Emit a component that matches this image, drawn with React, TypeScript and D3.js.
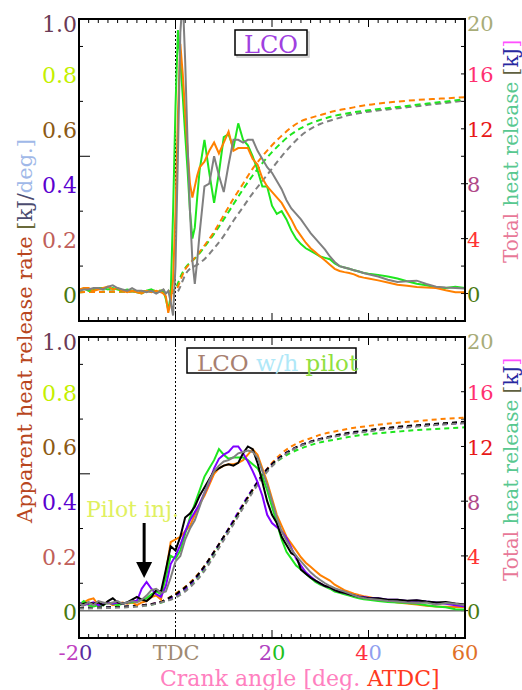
import React from 'react';
import * as d3 from 'd3';

const FONT = '"DejaVu Serif", serif';

// crank angle grids [deg ATDC]
const angTop = [-20, -19, -18, -17, -16, -15, -14, -13, -12, -11, -10, -9, -8, -7, -6, -5, -4, -3,
  -2.5, -2, -1.5, -1, -0.5, 0, 0.5, 1, 1.5, 2, 2.5, 3, 3.5, 4, 4.5, 5,
  6, 7, 8, 9, 10, 11, 12, 13, 14, 15, 16, 17, 18, 19, 20, 21, 22, 23, 24, 25, 26, 27, 28, 29, 30,
  31, 32, 33, 34, 35, 36, 37, 38, 39, 40, 42, 44, 46, 48, 50, 52, 54, 56, 58, 60];
const angBot = [-20, -19, -18, -17, -16, -15, -14, -13, -12, -11, -10, -9, -8, -7, -6, -5, -4, -3, -2, -1,
  0, 1, 2, 3, 4, 5, 6, 7, 8, 9, 10, 11, 12, 13, 14, 15, 16, 17, 18, 19, 20, 21, 22, 23, 24, 25, 26, 27, 28, 29, 30,
  31, 32, 33, 34, 35, 36, 37, 38, 39, 40, 42, 44, 46, 48, 50, 52, 54, 56, 58, 60];
const angCum = [-20, -10, -4, -2, -1, 0, 0.5, 1, 1.5, 2, 3, 4, 6, 8, 10, 12, 14, 16, 18, 20, 22, 24, 26, 28, 30, 33, 36, 40, 45, 50, 55, 60];

// LCO : apparent heat release rate [kJ/deg.]
const lcoGreen = [0.01, 0.02, 0.01, 0.015, 0.02, 0.02, 0.015, 0.02, 0.015, 0.01, 0.015, 0.01, 0.005, 0.0, 0.01, 0.015, 0.005, 0.01,
  0.01, -0.02, -0.06, -0.01, 0.3, 0.68, 0.96, 0.85, 0.72, 0.58, 0.45, 0.3, 0.2, 0.24, 0.35, 0.45,
  0.56, 0.44, 0.33, 0.44, 0.57, 0.58, 0.53, 0.62, 0.56, 0.54, 0.5, 0.45, 0.39, 0.39, 0.32, 0.29, 0.3, 0.27, 0.23, 0.2, 0.18,
  0.165, 0.155, 0.145, 0.135, 0.13, 0.125, 0.11, 0.1, 0.095, 0.09, 0.085, 0.08, 0.075, 0.072,
  0.068, 0.062, 0.055, 0.045, 0.036, 0.03, 0.022, 0.02, 0.025, 0.02];
const lcoOrange = [0.015, 0.02, 0.02, 0.01, 0.015, 0.02, 0.025, 0.015, 0.02, 0.01, 0.005, 0.01, 0.005, 0.0, 0.01, 0.005, 0.01, 0.005,
  0.0, -0.01, -0.07, -0.03, 0.05, 0.3, 0.65, 0.91, 0.8, 0.66, 0.52, 0.4, 0.35, 0.39, 0.43, 0.46,
  0.48, 0.52, 0.55, 0.51, 0.55, 0.59, 0.52, 0.53, 0.53, 0.53, 0.49, 0.47, 0.42, 0.39, 0.37, 0.35, 0.33, 0.3, 0.27, 0.235, 0.21,
  0.185, 0.165, 0.15, 0.135, 0.12, 0.105, 0.09, 0.082, 0.078, 0.075, 0.07, 0.062, 0.058, 0.055,
  0.048, 0.04, 0.032, 0.028, 0.024, 0.022, 0.02, 0.012, 0.005, 0.005];
const lcoGray = [0.01, 0.015, 0.015, 0.02, 0.02, 0.015, 0.025, 0.03, 0.02, 0.015, 0.01, 0.02, 0.01, 0.01, 0.005, 0.01, 0.0, 0.01,
  0.015, 0.0, 0.01, -0.03, -0.08, 0.1, 0.5, 0.95, 1.08, 0.85, 0.55, 0.3, 0.12, 0.035, 0.12, 0.22,
  0.39, 0.4, 0.5, 0.43, 0.37, 0.47, 0.56, 0.56, 0.55, 0.56, 0.56, 0.52, 0.49, 0.46, 0.44, 0.41, 0.38, 0.34, 0.31, 0.29, 0.27,
  0.245, 0.22, 0.2, 0.18, 0.16, 0.135, 0.115, 0.1, 0.095, 0.09, 0.085, 0.08, 0.075, 0.07,
  0.062, 0.05, 0.042, 0.045, 0.047, 0.035, 0.025, 0.022, 0.02, 0.018];

// LCO : total heat release [kJ]
const lcoCumOrange = [0.1, 0.15, 0.2, 0.2, 0.15, 0.2, 0.5, 0.95, 1.4, 1.75, 2.2, 2.6, 3.5, 4.5, 5.7, 6.9, 8.0, 9.1, 10.0, 10.8, 11.5, 12.1, 12.55, 12.8, 13.0, 13.3, 13.5, 13.75, 13.95, 14.1, 14.2, 14.3];
const lcoCumGreen = [0.1, 0.15, 0.2, 0.2, 0.15, 0.35, 0.75, 1.2, 1.55, 1.85, 2.25, 2.55, 3.4, 4.35, 5.4, 6.5, 7.6, 8.6, 9.5, 10.3, 11.0, 11.6, 12.05, 12.4, 12.65, 12.95, 13.15, 13.35, 13.55, 13.75, 13.95, 14.15];
const lcoCumGray = [0.1, 0.15, 0.15, 0.1, 0.05, 0.0, 0.15, 0.5, 0.95, 1.35, 1.8, 2.0, 2.5, 3.3, 4.2, 5.3, 6.3, 7.3, 8.2, 9.1, 10.0, 10.8, 11.5, 12.0, 12.35, 12.7, 13.0, 13.25, 13.45, 13.65, 13.85, 14.05];

// LCO w/h pilot : apparent heat release rate [kJ/deg.]
const pilOrange = [0.02, 0.03, 0.04, 0.045, 0.02, 0.025, 0.03, 0.02, 0.025, 0.03, 0.025, 0.03, 0.02, 0.03, 0.035, 0.05, 0.055, 0.04, 0.14, 0.25,
  0.26, 0.27, 0.29, 0.31, 0.35, 0.39, 0.42, 0.46, 0.5, 0.52, 0.53, 0.535, 0.535, 0.54, 0.55, 0.57, 0.59, 0.57, 0.52, 0.47, 0.41,
  0.35, 0.31, 0.27, 0.245, 0.22, 0.195, 0.175, 0.16, 0.145, 0.13, 0.12, 0.11, 0.095, 0.085, 0.075, 0.068, 0.062, 0.057, 0.053, 0.05,
  0.042, 0.036, 0.03, 0.026, 0.022, 0.018, 0.015, 0.014, 0.013, 0.012];
const pilGreen = [0.02, 0.035, 0.02, 0.015, 0.02, 0.02, 0.03, 0.025, 0.02, 0.025, 0.03, 0.03, 0.035, 0.04, 0.045, 0.06, 0.07, 0.06, 0.12, 0.2,
  0.19, 0.22, 0.28, 0.34, 0.39, 0.44, 0.49, 0.52, 0.55, 0.59, 0.57, 0.555, 0.56, 0.56, 0.56, 0.55, 0.535, 0.52, 0.49, 0.44, 0.38,
  0.32, 0.26, 0.215, 0.19, 0.165, 0.15, 0.135, 0.12, 0.105, 0.095, 0.088, 0.08, 0.07, 0.065, 0.06, 0.055, 0.05, 0.045, 0.042, 0.04,
  0.035, 0.032, 0.03, 0.028, 0.025, 0.02, 0.015, 0.012, 0.005, 0.004];
const pilPurple = [0.03, 0.02, 0.025, 0.03, 0.02, 0.025, 0.03, 0.025, 0.03, 0.025, 0.03, 0.035, 0.035, 0.08, 0.105, 0.08, 0.06, 0.05, 0.09, 0.17,
  0.2, 0.24, 0.29, 0.33, 0.36, 0.39, 0.43, 0.47, 0.52, 0.555, 0.57, 0.58, 0.6, 0.6, 0.575, 0.545, 0.51, 0.47, 0.42, 0.35, 0.32,
  0.305, 0.29, 0.265, 0.23, 0.19, 0.165, 0.14, 0.125, 0.11, 0.1, 0.09, 0.085, 0.075, 0.07, 0.065, 0.06, 0.055, 0.052, 0.05, 0.047,
  0.045, 0.04, 0.04, 0.035, 0.037, 0.033, 0.03, 0.025, 0.02, 0.015];
const pilBlack = [0.02, 0.025, 0.03, 0.025, 0.03, 0.02, 0.035, 0.045, 0.03, 0.025, 0.03, 0.04, 0.05, 0.04, 0.035, 0.05, 0.075, 0.07, 0.15, 0.235,
  0.22, 0.27, 0.34, 0.355, 0.38, 0.42, 0.45, 0.48, 0.51, 0.52, 0.53, 0.535, 0.53, 0.54, 0.575, 0.6, 0.59, 0.54, 0.47, 0.4, 0.35,
  0.32, 0.27, 0.24, 0.21, 0.2, 0.15, 0.135, 0.12, 0.11, 0.1, 0.09, 0.085, 0.075, 0.068, 0.065, 0.06, 0.055, 0.05, 0.048, 0.045,
  0.045, 0.04, 0.04, 0.036, 0.038, 0.033, 0.03, 0.032, 0.026, 0.022];
const pilGray = [0.025, 0.02, 0.03, 0.02, 0.035, 0.03, 0.025, 0.03, 0.035, 0.025, 0.03, 0.035, 0.03, 0.04, 0.055, 0.075, 0.08, 0.065, 0.07, 0.12,
  0.18, 0.2, 0.26, 0.3, 0.33, 0.38, 0.43, 0.475, 0.51, 0.53, 0.545, 0.55, 0.56, 0.575, 0.58, 0.585, 0.58, 0.56, 0.51, 0.46, 0.4,
  0.34, 0.29, 0.255, 0.225, 0.2, 0.18, 0.16, 0.14, 0.125, 0.112, 0.1, 0.09, 0.082, 0.076, 0.07, 0.063, 0.056, 0.05, 0.046, 0.043,
  0.04, 0.035, 0.033, 0.03, 0.028, 0.03, 0.022, 0.028, 0.025, 0.02];

// LCO w/h pilot : total heat release [kJ]
const pilCumOrange = [0.2, 0.3, 0.55, 0.8, 1.0, 1.25, 1.35, 1.5, 1.6, 1.75, 2.05, 2.4, 3.25, 4.3, 5.4, 6.5, 7.7, 8.8, 9.9, 10.8, 11.5, 12.0, 12.35, 12.6, 12.85, 13.1, 13.3, 13.5, 13.7, 13.85, 14.0, 14.1];
const pilCumGreen = [0.2, 0.3, 0.5, 0.7, 0.85, 1.05, 1.15, 1.25, 1.35, 1.5, 1.8, 2.2, 3.1, 4.2, 5.4, 6.5, 7.7, 8.8, 9.8, 10.6, 11.15, 11.55, 11.85, 12.1, 12.3, 12.5, 12.7, 12.9, 13.05, 13.2, 13.3, 13.4];
const pilCumPurple = [0.2, 0.3, 0.55, 0.75, 0.9, 1.1, 1.2, 1.35, 1.45, 1.6, 1.9, 2.3, 3.2, 4.3, 5.4, 6.6, 7.8, 8.9, 9.9, 10.7, 11.3, 11.75, 12.1, 12.35, 12.55, 12.75, 12.95, 13.15, 13.35, 13.5, 13.62, 13.72];
const pilCumGray = [0.15, 0.25, 0.5, 0.7, 0.8, 0.95, 1.05, 1.15, 1.25, 1.4, 1.7, 2.05, 2.9, 4.0, 5.15, 6.3, 7.5, 8.65, 9.7, 10.55, 11.2, 11.7, 12.05, 12.3, 12.5, 12.72, 12.9, 13.1, 13.3, 13.45, 13.6, 13.7];
const pilCumBlack = [0.2, 0.3, 0.55, 0.8, 1.0, 1.2, 1.3, 1.45, 1.55, 1.7, 2.0, 2.35, 3.25, 4.3, 5.4, 6.5, 7.7, 8.85, 9.9, 10.7, 11.3, 11.75, 12.1, 12.35, 12.55, 12.8, 13.0, 13.2, 13.4, 13.55, 13.68, 13.8];

// tick labels
const leftTicks = [0, 0.2, 0.4, 0.6, 0.8, 1.0];
const leftTickText = ['0', '0.2', '0.4', '0.6', '0.8', '1.0'];
const leftTickColor = ['#4a7a10', '#c0605a', '#5a00d0', '#8c5a14', '#c4f000', '#6b3a55'];
const rightTicks = [0, 4, 8, 12, 16, 20];
const rightTickColor = ['#4a7a10', '#ff3333', '#b04888', '#e81818', '#ff3070', '#a8ac78'];
// x tick labels: each label split in a left and a right part around the tick
const xTicks = [-20, 0, 20, 40, 60];
const xTickLeft = ['-2', 'TD', '2', '4', '6'];
const xTickRight = ['0', 'C', '0', '0', '0'];
const xTickLeftColor = ['#c040c0', '#a08a72', '#b040c0', '#ff3040', '#e07028'];
const xTickRightColor = ['#5a2aa0', '#a08a72', '#20c020', '#90a0f0', '#e07028'];

const GREEN = '#1ee61e', ORANGE = '#ff8000', GRAY = '#808080', PURPLE = '#7f00ff', BLACK = '#000000';

const L = 79, R = 465;
const x = d3.scaleLinear().domain([-20, 60]).range([L, R]);

type Panel = { top: number; bottom: number };
const P1: Panel = { top: 19, bottom: 321 };
const P2: Panel = { top: 337, bottom: 638 };

function Frame({ p, id }: { p: Panel; id: string }) {
  const yl = d3.scaleLinear().domain([-0.1, 1.0]).range([p.bottom, p.top]);
  const yr = d3.scaleLinear().domain([-2, 20]).range([p.bottom, p.top]);
  const xt = d3.range(-20, 61, 2);
  return (
    <g>
      <clipPath id={id}><rect x={L} y={p.top} width={R - L} height={p.bottom - p.top} /></clipPath>
      {xt.map(t => {
        const len = t % 20 === 0 ? 8 : 4;
        return (
          <g key={t} stroke="#000" strokeWidth={1}>
            <line x1={x(t)} x2={x(t)} y1={p.bottom} y2={p.bottom - len} />
            <line x1={x(t)} x2={x(t)} y1={p.top} y2={p.top + len} />
          </g>
        );
      })}
      {[0.1, 0.3, 0.5, 0.7, 0.9].map(t => (
        <line key={t} x1={L} x2={L + (t === 0.5 ? 11 : 4)} y1={yl(t)} y2={yl(t)} stroke="#000" />
      ))}
      {d3.range(0, 21, 2).map(t => (
        <line key={t} x1={R - 4} x2={R + (t % 4 === 0 && t <= 8 ? 3 : 0)} y1={yr(t)} y2={yr(t)} stroke="#000" />
      ))}
      {leftTicks.map((t, i) => (
        <text key={t} x={77} y={yl(t) + (t === 1 ? 12.5 : 9)} textAnchor="end" fontSize={22} fill={leftTickColor[i]}>
          {leftTickText[i]}
        </text>
      ))}
      {rightTicks.map((t, i) => (
        <text key={t} x={467} y={yr(t) + (t === 20 ? 12 : 8.5)} textAnchor="start" fontSize={21} fill={rightTickColor[i]}>
          {t}
        </text>
      ))}
      <line x1={x(0)} x2={x(0)} y1={p.top} y2={p.bottom} stroke="#000" strokeWidth={1} strokeDasharray="2,2" />
    </g>
  );
}

function Series({ ang, vals, y, color, dash, curve, clip }:
  { ang: number[]; vals: number[]; y: d3.ScaleLinear<number, number>; color: string; dash?: string; curve?: d3.CurveFactory; clip: string }) {
  const line = d3.line<number>().x((_, i) => x(ang[i])).y(v => y(v)).curve(curve || d3.curveLinear);
  return <path d={line(vals) || ''} fill="none" stroke={color} strokeWidth={2} strokeDasharray={dash} clipPath={`url(#${clip})`} />;
}

export default function App() {
  const y1 = d3.scaleLinear().domain([-0.1, 1.0]).range([P1.bottom, P1.top]);
  const y1r = d3.scaleLinear().domain([-2, 20]).range([P1.bottom, P1.top]);
  const y2 = d3.scaleLinear().domain([-0.1, 1.0]).range([P2.bottom, P2.top]);
  const y2r = d3.scaleLinear().domain([-2, 20]).range([P2.bottom, P2.top]);
  const mono = d3.curveMonotoneX;

  return (
    <svg width={522} height={690} style={{ position: 'absolute', left: 0, top: 0, background: '#fff' }} fontFamily={FONT}>
      <rect width={522} height={690} fill="#fff" />

      {/* top panel: LCO */}
      <Frame p={P1} id="clip1" />
      <Series ang={angCum} vals={lcoCumGray} y={y1r} color={GRAY} dash="6,4" curve={mono} clip="clip1" />
      <Series ang={angCum} vals={lcoCumGreen} y={y1r} color={GREEN} dash="6,4" curve={mono} clip="clip1" />
      <Series ang={angCum} vals={lcoCumOrange} y={y1r} color={ORANGE} dash="6,4" curve={mono} clip="clip1" />
      <Series ang={angTop} vals={lcoGreen} y={y1} color={GREEN} clip="clip1" />
      <Series ang={angTop} vals={lcoOrange} y={y1} color={ORANGE} clip="clip1" />
      <Series ang={angTop} vals={lcoGray} y={y1} color={GRAY} clip="clip1" />
      <rect x={L} y={P1.top} width={R - L} height={P1.bottom - P1.top} fill="none" stroke="#000" strokeWidth={2} />
      <rect x={237} y={32} width={72} height={25} fill="none" stroke="#c8c8c8" strokeWidth={1.5} />
      <rect x={235} y={30} width={72} height={25} fill="#fff" stroke="#000" strokeWidth={1.5} />
      <text x={271} y={53} textAnchor="middle" fontSize={24} fill="#a040e0">LCO</text>

      {/* bottom panel: LCO w/h pilot */}
      <Frame p={P2} id="clip2" />
      <line x1={L} x2={R} y1={y2(0)} y2={y2(0)} stroke="#707070" strokeWidth={1.5} />
      <Series ang={angCum} vals={pilCumOrange} y={y2r} color={ORANGE} dash="5,4" curve={mono} clip="clip2" />
      <Series ang={angCum} vals={pilCumGreen} y={y2r} color={GREEN} dash="5,4" curve={mono} clip="clip2" />
      <Series ang={angCum} vals={pilCumPurple} y={y2r} color={PURPLE} dash="5,4" curve={mono} clip="clip2" />
      <Series ang={angCum} vals={pilCumBlack} y={y2r} color={BLACK} dash="5,4" curve={mono} clip="clip2" />
      <Series ang={angCum} vals={pilCumGray} y={y2r} color={GRAY} dash="5,4" curve={mono} clip="clip2" />
      <Series ang={angBot} vals={pilOrange} y={y2} color={ORANGE} clip="clip2" />
      <Series ang={angBot} vals={pilGreen} y={y2} color={GREEN} clip="clip2" />
      <Series ang={angBot} vals={pilPurple} y={y2} color={PURPLE} clip="clip2" />
      <Series ang={angBot} vals={pilBlack} y={y2} color={BLACK} clip="clip2" />
      <Series ang={angBot} vals={pilGray} y={y2} color={GRAY} clip="clip2" />
      <rect x={L} y={P2.top} width={R - L} height={P2.bottom - P2.top} fill="none" stroke="#000" strokeWidth={2} />
      <rect x={187} y={348} width={169} height={25} fill="#fff" stroke="#000" strokeWidth={1.5} />
      <text x={197} y={371} fontSize={23}>
        <tspan fill="#a88070">LCO </tspan><tspan fill="#b0e8f8">w/h </tspan><tspan fill="#90e040">pilot</tspan>
      </text>

      {/* pilot injection marker */}
      <text x={86} y={517} fontSize={22} fill="#e0f060">Pilot inj.</text>
      <line x1={x(-6.5)} x2={x(-6.5)} y1={523} y2={564} stroke="#000" strokeWidth={3} />
      <path d={`M${x(-6.5) - 8},562 L${x(-6.5) + 8},562 L${x(-6.5)},578 Z`} fill="#000" />

      {/* x tick labels */}
      <g fontSize={21}>
        {xTicks.map((t, i) => (
          <g key={t}>
            <text x={x(t) + (t === 0 ? 8 : 0)} y={660} textAnchor="end" fill={xTickLeftColor[i]}>{xTickLeft[i]}</text>
            <text x={x(t) + (t === 0 ? 8 : 0)} y={660} textAnchor="start" fill={xTickRightColor[i]}>{xTickRight[i]}</text>
          </g>
        ))}
      </g>
      <text x={160} y={686} fontSize={22}>
        <tspan fill="#ff80c0">Crank angle [deg. </tspan><tspan fill="#ff3a20">ATDC]</tspan>
      </text>

      {/* y axis titles */}
      <text transform="translate(32,523) rotate(-90)" textAnchor="start" fontSize={21}>
        <tspan fill="#b8461e">Apparent heat release rate </tspan><tspan fill="#6a6a3a">[</tspan><tspan fill="#4c4c70">kJ/</tspan><tspan fill="#a0b8e8">deg.]</tspan>
      </text>
      {[263, 581].map(cy => (
        <text key={cy} transform={`translate(518,${cy}) rotate(-90)`} textAnchor="start" fontSize={20}>
          <tspan fill="#e87898">Total </tspan><tspan fill="#58c890">heat release </tspan><tspan fill="#606040">[</tspan><tspan fill="#2828a0">kJ</tspan><tspan fill="#ff50ff">]</tspan>
        </text>
      ))}
    </svg>
  );
}
